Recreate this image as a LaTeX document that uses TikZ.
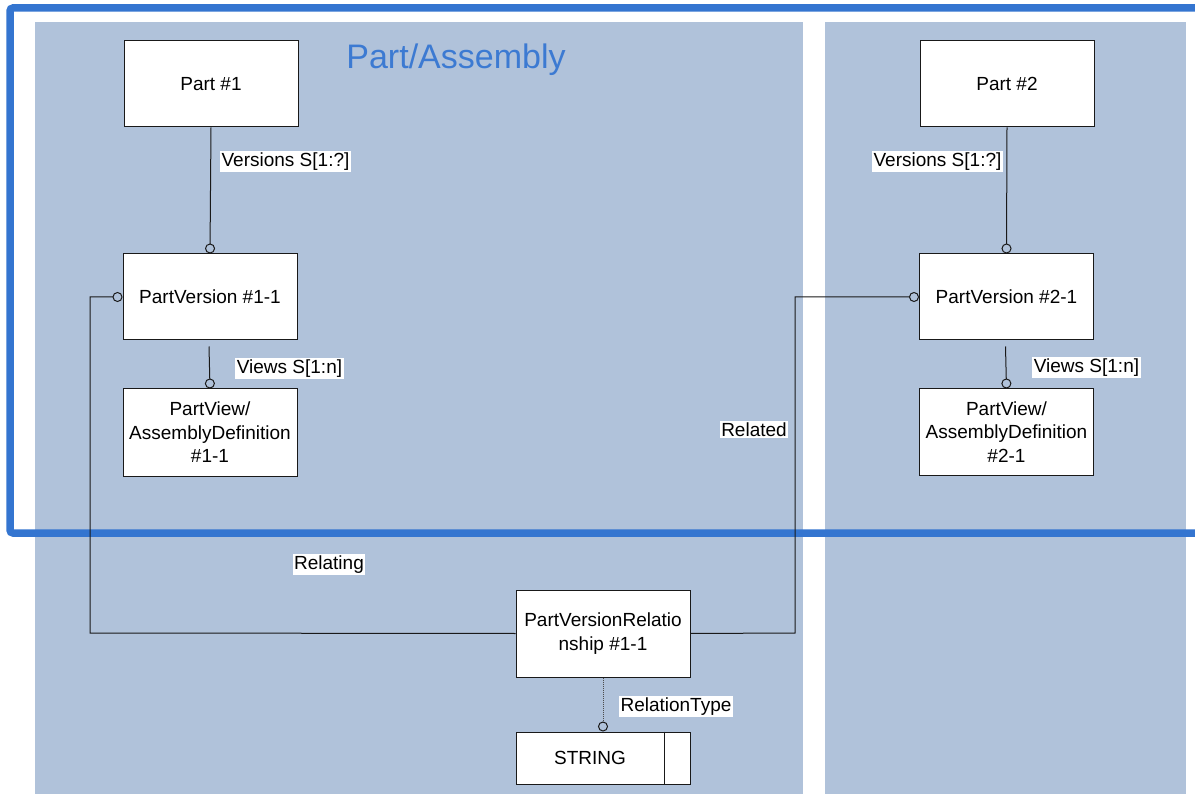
\documentclass[tikz,border=0pt]{standalone}
\usepackage{fontspec}
\setmainfont{Liberation Sans}
\usetikzlibrary{arrows.meta}
\definecolor{panel}{RGB}{176,194,218}
\definecolor{frameblue}{RGB}{52,117,208}
\definecolor{titleblue}{RGB}{60,122,210}
\begin{document}
\begin{tikzpicture}[x=1pt,y=-1pt,
  every node/.style={font=\fontsize{19}{23.5}\selectfont},
  box/.style={draw=black!90, line width=1pt, fill=white, minimum width=174pt, minimum height=86pt, inner sep=0pt, align=center},
  lbl/.style={fill=white, inner sep=1.5pt},
  conn/.style={draw=black!90, line width=1pt},
  ctip/.style={-{Circle[open,length=10pt,width=10pt,color=black!90,line width=1pt]}}
]
\useasboundingbox (0,0) rectangle (1195,794);
\clip (0,0) rectangle (1195,794);
% panels
\fill[panel] (35,22) rectangle (803,794);
\fill[panel] (825,22) rectangle (1186,794);
% frame
\draw[frameblue, line width=7.5pt, rounded corners=3pt] (10,8) rectangle (1215,533);
\node[font=\fontsize{34}{40}\selectfont, text=titleblue] (title) at (456,60) {Part/Assembly};
% boxes
\node[box] (p1) at (211,84) {Part \#1};
\node[box] (p2) at (1007,84) {Part \#2};
\node[box] (pv1) at (210,297) {PartVersion \#1-1};
\node[box] (pv2) at (1006.5,297) {PartVersion \#2-1};
\node[box, minimum height=87pt] (pvd1) at (210,432.5) {PartView/\\AssemblyDefinition\\\#1-1};
\node[box] (pvd2) at (1006.5,432) {PartView/\\AssemblyDefinition\\\#2-1};
\node[box, minimum height=87pt] (pvr) at (603,633.5) {PartVersionRelatio\\nship \#1-1};
\node[box, minimum height=52pt] (str) at (603,758) {\hspace*{-26pt}STRING};
\draw[black!90, line width=1pt] ([xshift=-26pt]str.north east) -- ([xshift=-26pt]str.south east);
% connectors
\draw[conn, ctip] (p1.south) -- (pv1.north);
\draw[conn, ctip] (p2.south) -- (pv2.north);
\draw[conn, ctip] ([xshift=-1pt,yshift=-6pt]pv1.south) -- (pvd1.north);
\draw[conn, ctip] ([xshift=-1pt,yshift=-6pt]pv2.south) -- (pvd2.north);
\coordinate (lc) at (90,633);
\coordinate (rc) at (795,633);
\draw[conn, ctip] (pvr.west) -- (lc) -- (lc |- pv1.west) -- (pv1.west);
\draw[conn, ctip] (pvr.east) -- (rc) -- (rc |- pv2.west) -- (pv2.west);
\draw[conn, draw=black!70, densely dotted, ctip] (pvr.south) -- (str.north);
% labels
\node[lbl] (l1) at (285.5,161.5) {Versions S[1:?]};
\node[lbl] (l2) at (937.5,161.5) {Versions S[1:?]};
\node[lbl] (l3) at (289.5,368.5) {Views S[1:n]};
\node[lbl] (l4) at (1086.5,367.5) {Views S[1:n]};
\node[lbl] (l5) at (754,429.5) {Related};
\node[lbl] (l6) at (329,564.5) {Relating};
\node[lbl] (l7) at (676,706.5) {RelationType};
\end{tikzpicture}
\end{document}
